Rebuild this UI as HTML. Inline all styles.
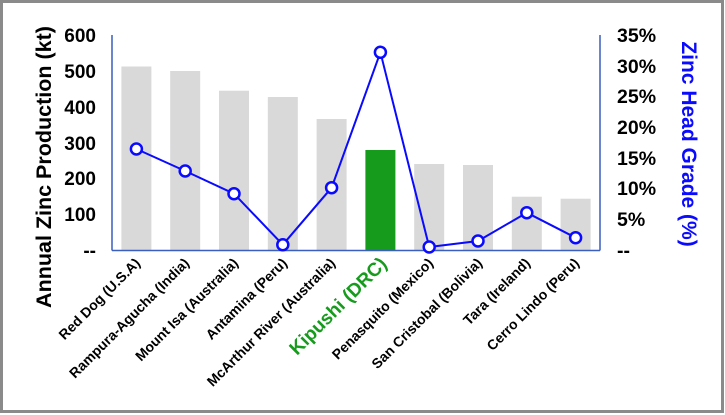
<!DOCTYPE html>
<html><head><meta charset="utf-8"><style>
body{margin:0;background:#fff;}
svg{display:block;font-family:"Liberation Sans",Arial,sans-serif;}
</style></head><body>
<svg width="725" height="415" viewBox="0 0 725 415" xmlns="http://www.w3.org/2000/svg">
<rect x="1.5" y="1.5" width="721" height="410" fill="#fff" stroke="#8a8a8a" stroke-width="3"/>
<g fill="#d9d9d9">
<rect x="121.4" y="66.5" width="30" height="183.5"/>
<rect x="170.2" y="71" width="30" height="179"/>
<rect x="219" y="90.7" width="30" height="159.3"/>
<rect x="267.8" y="97" width="30" height="153"/>
<rect x="316.6" y="119" width="30" height="131"/>
<rect x="414.2" y="164" width="30" height="86"/>
<rect x="463" y="165" width="30" height="85"/>
<rect x="511.8" y="196.7" width="30" height="53.3"/>
<rect x="560.6" y="198.7" width="30" height="51.3"/>
</g>
<rect x="365.4" y="150" width="30" height="100" fill="#169b1d"/>
<g stroke="#3a5fbf" stroke-width="1.5" fill="none">
<line x1="112" y1="35" x2="112" y2="250.5"/>
<line x1="600" y1="35" x2="600" y2="250.5"/>
<line x1="112" y1="250.5" x2="600" y2="250.5"/>
</g>
<polyline fill="none" stroke="#0a0aff" stroke-width="2" points="136.4,149 185.2,171 234,193.7 282.8,244.7 331.6,187.7 380.4,52.3 429.2,247 478,241 526.8,212.7 575.6,237.7"/>
<g fill="#fff" stroke="#0a0aff" stroke-width="2.5">
<circle cx="136.4" cy="149" r="5.5"/><circle cx="185.2" cy="171" r="5.5"/><circle cx="234" cy="193.7" r="5.5"/><circle cx="282.8" cy="244.7" r="5.5"/><circle cx="331.6" cy="187.7" r="5.5"/><circle cx="380.4" cy="52.3" r="5.5"/><circle cx="429.2" cy="247" r="5.5"/><circle cx="478" cy="241" r="5.5"/><circle cx="526.8" cy="212.7" r="5.5"/><circle cx="575.6" cy="237.7" r="5.5"/>
</g>
<g font-size="19" font-weight="bold" fill="#000" text-anchor="end">
<text x="96" y="42">600</text><text x="96" y="78">500</text><text x="96" y="114">400</text><text x="96" y="150">300</text><text x="96" y="185">200</text><text x="96" y="221">100</text><text x="96" y="257">--</text>
</g>
<g font-size="19.5" font-weight="bold" fill="#000">
<text x="617" y="42">35%</text><text x="617" y="73">30%</text><text x="617" y="103">25%</text><text x="617" y="134">20%</text><text x="617" y="165">15%</text><text x="617" y="195">10%</text><text x="617" y="226">5%</text><text x="617" y="257">--</text>
</g>
<text transform="translate(51,167) rotate(-90)" text-anchor="middle" font-size="21.5" font-weight="bold" fill="#000">Annual Zinc Production (kt)</text>
<text transform="translate(682,144) rotate(90)" text-anchor="middle" font-size="21" font-weight="bold" fill="#0a0aff">Zinc Head Grade (%)</text>
<g font-size="14" font-weight="bold" fill="#000" text-anchor="end">
<text transform="translate(141,264) rotate(-45)">Red Dog (U.S.A)</text>
<text transform="translate(190,264) rotate(-45)">Rampura-Agucha (India)</text>
<text transform="translate(239,264) rotate(-45)">Mount Isa (Australia)</text>
<text transform="translate(288,264) rotate(-45)">Antamina (Peru)</text>
<text transform="translate(336,264) rotate(-45)">McArthur River (Australia)</text>
<text transform="translate(434,264) rotate(-45)">Penasquito (Mexico)</text>
<text transform="translate(483,264) rotate(-45)">San Cristobal (Bolivia)</text>
<text transform="translate(531,264) rotate(-45)">Tara (Ireland)</text>
<text transform="translate(580,264) rotate(-45)">Cerro Lindo (Peru)</text>
</g>
<text transform="translate(388,265) rotate(-45)" text-anchor="end" font-size="19" font-weight="bold" fill="#169b1d">Kipushi (DRC)</text>
</svg>
</body></html>
